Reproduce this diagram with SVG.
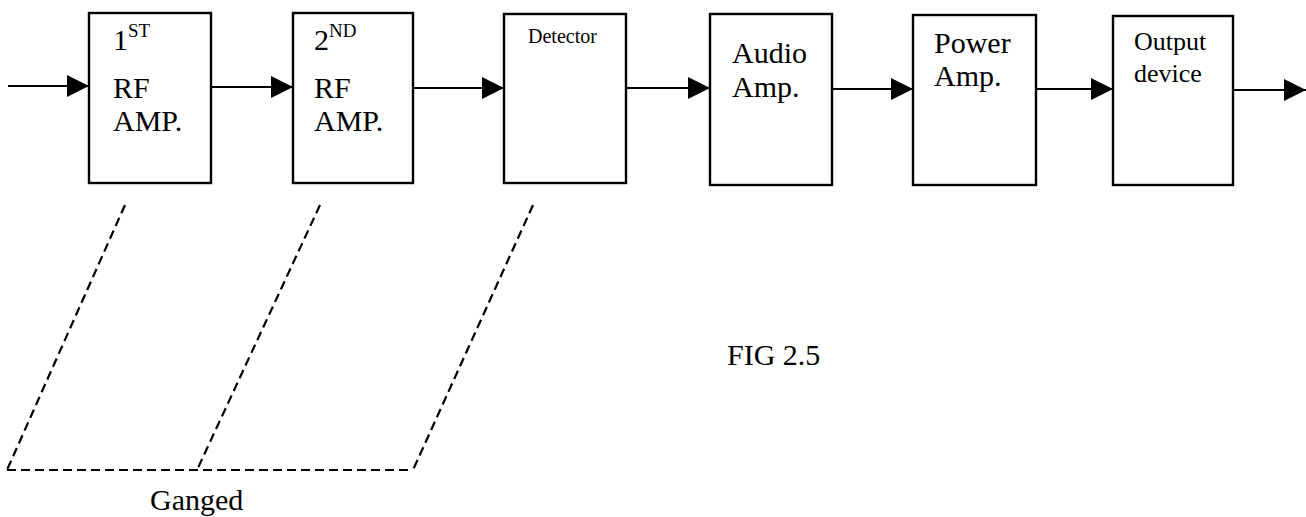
<svg xmlns="http://www.w3.org/2000/svg" width="1306" height="517" viewBox="0 0 1306 517">
<defs>
<style>
.box{fill:#fff;stroke:#000;stroke-width:2.4}
.t{font-family:"Liberation Serif","Times New Roman",serif;font-size:30px;fill:#000}
.s{font-size:19px}
.c{stroke:#000;stroke-width:2.2;fill:none}
.d{stroke:#000;stroke-width:2.2;fill:none;stroke-dasharray:9 5}
</style>
<marker id="ah" markerWidth="22" markerHeight="22" viewBox="0 0 22 22" refX="22" refY="11" orient="auto" markerUnits="userSpaceOnUse">
<path d="M0,0 L22,11 L0,22 Z" fill="#000"/>
</marker>
</defs>
<rect width="1306" height="517" fill="#fff"/>
<g id="connectors">
<line class="c" x1="8" y1="86" x2="89" y2="86" marker-end="url(#ah)"/>
<line class="c" x1="211" y1="87" x2="293" y2="87" marker-end="url(#ah)"/>
<line class="c" x1="413" y1="88" x2="504" y2="88" marker-end="url(#ah)"/>
<line class="c" x1="626" y1="88" x2="710" y2="88" marker-end="url(#ah)"/>
<line class="c" x1="832" y1="89" x2="913" y2="89" marker-end="url(#ah)"/>
<line class="c" x1="1036" y1="89" x2="1113" y2="89" marker-end="url(#ah)"/>
<line class="c" x1="1233" y1="90" x2="1306" y2="90" marker-end="url(#ah)"/>
</g>
<g id="rf1">
<rect class="box" x="89" y="13" width="122" height="170"/>
<text class="t" x="113" y="50">1<tspan class="s" dy="-13">ST</tspan></text>
<text class="t" x="113" y="98">RF</text>
<text class="t" x="113" y="131">AMP.</text>
</g>
<g id="rf2">
<rect class="box" x="293" y="13" width="120" height="170"/>
<text class="t" x="314" y="50">2<tspan class="s" dy="-13">ND</tspan></text>
<text class="t" x="314" y="98">RF</text>
<text class="t" x="314" y="131">AMP.</text>
</g>
<g id="detector">
<rect class="box" x="504" y="14" width="122" height="169"/>
<text class="t" x="528" y="43" style="font-size:20px">Detector</text>
</g>
<g id="audio">
<rect class="box" x="710" y="14" width="122" height="171"/>
<text class="t" x="732" y="63">Audio</text>
<text class="t" x="732" y="97">Amp.</text>
</g>
<g id="power">
<rect class="box" x="913" y="15" width="123" height="170"/>
<text class="t" x="934" y="53">Power</text>
<text class="t" x="934" y="86">Amp.</text>
</g>
<g id="output">
<rect class="box" x="1113" y="16" width="120" height="169"/>
<text class="t" x="1134" y="50" style="font-size:26px">Output</text>
<text class="t" x="1134" y="82" style="font-size:26px">device</text>
</g>
<g id="ganged">
<line class="d" x1="125" y1="205" x2="7" y2="470"/>
<line class="d" x1="320" y1="205" x2="197" y2="470"/>
<line class="d" x1="533" y1="205" x2="413" y2="470"/>
<line class="d" x1="7" y1="470" x2="413" y2="470"/>
<text class="t" x="150" y="510">Ganged</text>
</g>
<text id="caption" class="t" x="727" y="365">FIG 2.5</text>
</svg>
